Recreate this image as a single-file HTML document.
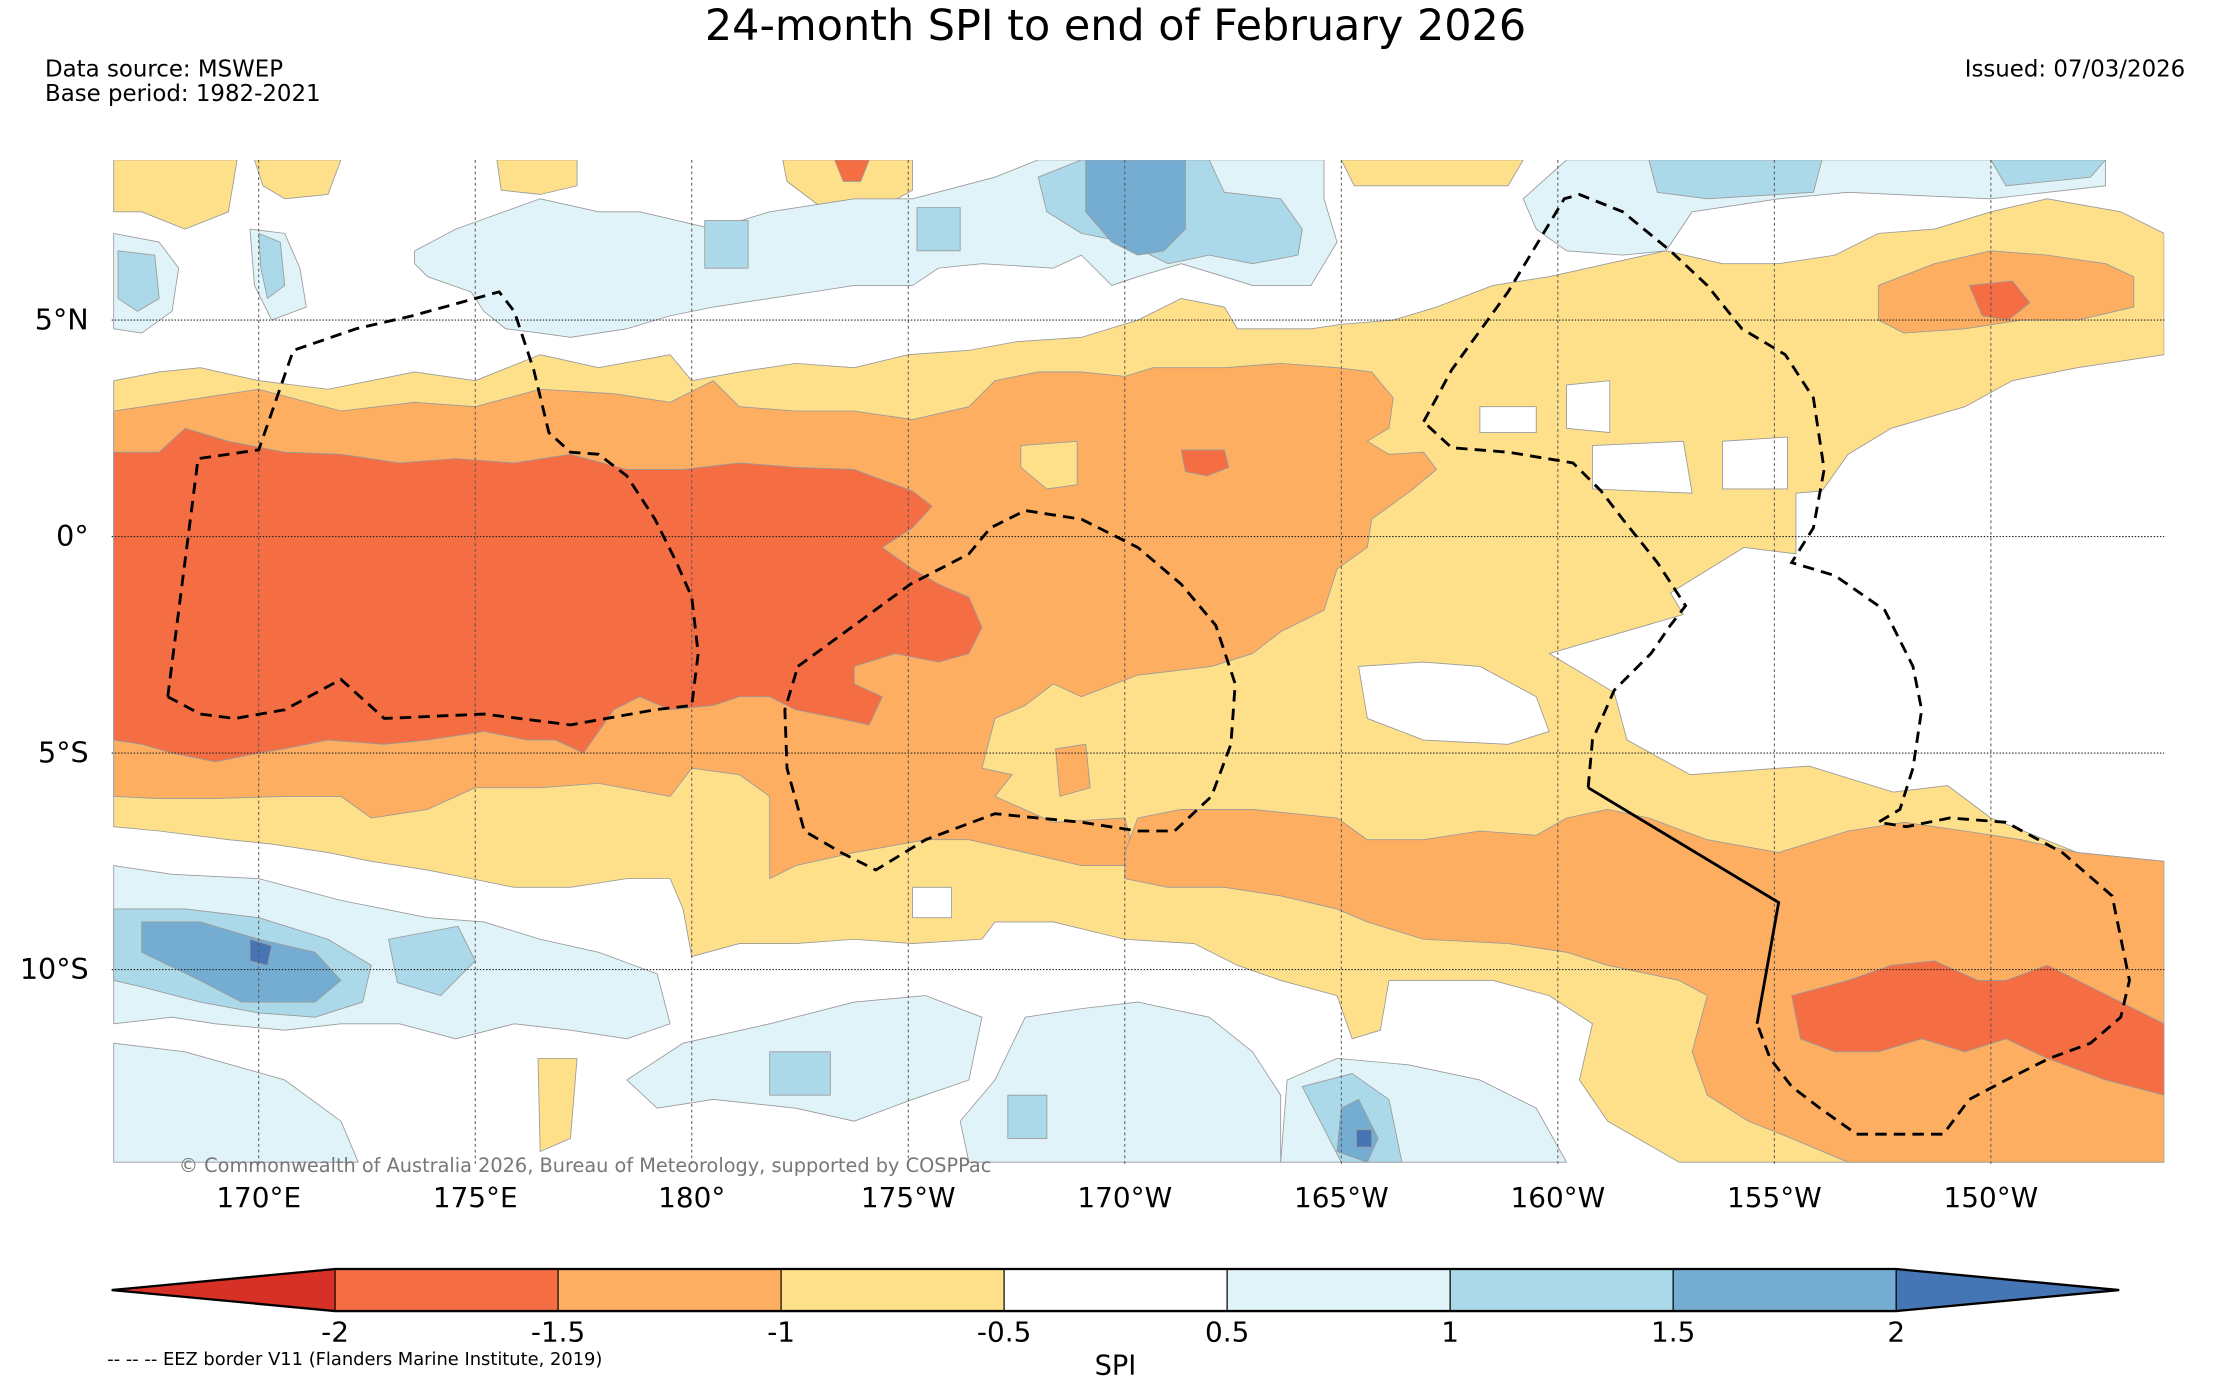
<!DOCTYPE html>
<html><head><meta charset="utf-8"><title>24-month SPI</title>
<style>
html,body{margin:0;padding:0;background:#fff;}
svg{display:block;font-family:"DejaVu Sans","Liberation Sans",sans-serif;}
</style></head>
<body>
<svg id="chart" xmlns="http://www.w3.org/2000/svg" width="2231" height="1380" viewBox="0 0 1560 965" preserveAspectRatio="none">
<rect x="0" y="0" width="1560" height="965" fill="#fff"/>
<text x="780" y="28" text-anchor="middle" font-size="30" fill="#000">24-month SPI to end of February 2026</text>
<text x="31.5" y="53.5" font-size="16">Data source: MSWEP</text>
<text x="31.5" y="70.5" font-size="16">Base period: 1982-2021</text>
<text x="1528" y="53.5" font-size="16" text-anchor="end">Issued: 07/03/2026</text>
<defs><clipPath id="mapclip"><rect x="78.1" y="111.9" width="1435.2" height="702.8"/></clipPath></defs>
<g id="map" clip-path="url(#mapclip)"></g>
<g id="grid"></g>
<g id="eez" clip-path="url(#mapclip)"></g>
<g id="axes"></g>
<text x="125" y="819.5" font-size="13.5" fill="#777">© Commonwealth of Australia 2026, Bureau of Meteorology, supported by COSPPac</text>
<g id="cbar"></g>
<text x="780" y="961" font-size="19" text-anchor="middle">SPI</text>
<text x="75" y="954.5" font-size="12.5">-- -- -- EEZ border V11 (Flanders Marine Institute, 2019)</text>
</svg>
<script>
// ---- axis data ----
const lonTicks = [170, 175, 180, 185, 190, 195, 200, 205, 210];
const lonTickLabels = ["170°E","175°E","180°","175°W","170°W","165°W","160°W","155°W","150°W"];
const latTicks = [5, 0, -5, -10];
const latTickLabels = ["5°N","0°","5°S","10°S"];
const cbarLevels = [-2, -1.5, -1, -0.5, 0.5, 1, 1.5, 2];
const cbarLabels = ["-2","-1.5","-1","-0.5","0.5","1","1.5","2"];
const cbarColors = ["#d73027","#f46d43","#fdae61","#fee08b","#ffffff","#e0f3f8","#abd9e9","#74add1","#4575b4"];

// ---- contour data (lon 0-360 east, lat) ----
const yellowBand = [[166.65,3.6],[167.7,3.8],[168.65,3.9],[170,3.6],[171.6,3.4],[173.6,3.8],[175,3.6],[176.5,4.2],[177.85,3.9],[179.5,4.2],[180,3.6],[181.1,3.8],[182.4,4.0],[183.75,3.9],[185,4.2],[186.4,4.3],[187.5,4.5],[189,4.6],[190.3,5.0],[191.3,5.5],[192.3,5.3],[192.6,4.8],[194.3,4.8],[195,4.9],[196.2,5.0],[197.2,5.3],[198.5,5.8],[199.8,6.0],[201.15,6.3],[202.5,6.6],[203.8,6.3],[205.1,6.3],[206.4,6.5],[207.4,7.0],[208.7,7.1],[210,7.5],[211.3,7.8],[213,7.5],[214,7.0],[214,4.2],[212,3.9],[210.5,3.6],[209.4,3.0],[207.7,2.5],[206.7,1.9],[206.1,1.05],[205.5,1.0],[205.5,-0.4],[204.3,-0.25],[202.6,-1.3],[202.9,-1.8],[199.8,-2.7],[201.3,-3.6],[201.6,-4.7],[203.05,-5.5],[205.8,-5.3],[207.75,-5.9],[209,-5.75],[210,-6.5],[212,-7.3],[214,-7.5],[214,-14.45],[202.8,-14.45],[201.15,-13.5],[200.5,-12.55],[200.8,-11.25],[199.8,-10.6],[198.5,-10.25],[196.9,-10.25],[196.1,-10.25],[195.9,-11.4],[195.25,-11.6],[194.9,-10.6],[193.6,-10.25],[192.6,-9.9],[191.6,-9.4],[190,-9.3],[188.35,-8.9],[187,-8.9],[186.7,-9.3],[185.1,-9.4],[183.75,-9.3],[182.4,-9.4],[181.1,-9.4],[180,-9.7],[179.8,-8.6],[179.5,-7.9],[178.5,-7.9],[177.2,-8.1],[175.9,-8.1],[174.9,-7.9],[173.9,-7.7],[172.6,-7.5],[171.6,-7.3],[170.3,-7.1],[169.3,-7.0],[167.7,-6.8],[166.65,-6.7]];
const yellowTopA = [[166.65,8.7],[169.5,8.7],[169.3,7.5],[168.3,7.1],[167.3,7.5],[166.65,7.5]];
const yellowTopB = [[169.9,8.7],[171.9,8.7],[171.6,7.9],[170.6,7.8],[170.1,8.1]];
const yellowTopC = [[175.5,8.7],[177.35,8.7],[177.35,8.1],[176.5,7.9],[175.6,8.0]];
const yellowTopD = [[182.1,8.7],[185.1,8.7],[185.1,8.0],[184.2,7.5],[183.0,7.6],[182.2,8.2]];
const yellowTopE = [[195,8.7],[199.2,8.7],[198.85,8.1],[196.9,8.1],[195.3,8.1]];
const yellowSmallS = [[176.45,-12.05],[177.35,-12.05],[177.2,-13.9],[176.5,-14.2]];
const orangeWest = [[166.65,2.9],[168,3.1],[170,3.4],[171.9,2.9],[173.6,3.1],[175,3.0],[176.5,3.4],[178.2,3.3],[179.5,3.1],[180.5,3.6],[181.1,3.0],[182.4,2.9],[183.75,2.9],[185.1,2.7],[186.4,3.0],[187,3.6],[188,3.8],[189,3.8],[190,3.7],[190.65,3.9],[192.3,3.9],[193.6,4.0],[194.9,3.9],[195.7,3.8],[196.2,3.2],[196.1,2.5],[195.6,2.2],[196.1,1.9],[196.9,1.95],[197.2,1.55],[196.6,1.05],[195.7,0.4],[195.6,-0.25],[194.9,-0.75],[194.6,-1.7],[193.6,-2.2],[192.95,-2.7],[192,-3.0],[190.3,-3.2],[189,-3.7],[188.35,-3.4],[187.7,-3.9],[187,-4.2],[186.7,-5.35],[187.4,-5.5],[187,-6.0],[188.35,-6.6],[190,-6.5],[190.3,-7.6],[189,-7.6],[187.7,-7.3],[186.4,-7.0],[185.4,-7.0],[183.75,-7.3],[182.4,-7.6],[181.8,-7.9],[181.8,-7.0],[181.8,-6.0],[181.1,-5.5],[180,-5.35],[179.5,-6.0],[177.85,-5.7],[176.5,-5.8],[175,-5.8],[173.9,-6.3],[172.6,-6.5],[171.9,-6.0],[170.6,-6.0],[169,-6.05],[167.7,-6.05],[166.65,-6.0]];
const orangeSouth = [[190,-7.3],[190.3,-6.5],[191.3,-6.3],[192.95,-6.3],[194.9,-6.5],[195.6,-7.0],[196.9,-7.0],[198.2,-6.8],[199.5,-6.9],[200.2,-6.5],[201.15,-6.3],[202.1,-6.5],[203.45,-7.0],[205.1,-7.3],[206.7,-6.8],[208,-6.6],[209.4,-6.8],[210.7,-7.0],[212,-7.3],[214,-7.5],[214,-14.45],[206.7,-14.45],[205.4,-13.9],[204.4,-13.5],[203.45,-12.9],[203.1,-11.9],[203.45,-10.6],[202.8,-10.25],[201.15,-9.9],[200.2,-9.6],[198.85,-9.4],[196.9,-9.3],[195.6,-8.9],[194.9,-8.6],[193.6,-8.3],[192.3,-8.1],[191,-8.1],[190,-7.9]];
const orangeNE = [[207.4,5.8],[208.7,6.3],[210,6.6],[211.3,6.5],[212.65,6.3],[213.3,6.0],[213.3,5.3],[212,5.0],[210.7,5.0],[209.4,4.8],[208,4.7],[207.4,5.0]];
const orangePatchA = [[188.4,-4.9],[189.1,-4.8],[189.2,-5.8],[188.5,-6.0]];
const redWest = [[166.65,1.95],[167.7,1.95],[168.3,2.5],[169.3,2.2],[170.6,1.95],[171.9,1.9],[173.25,1.7],[174.55,1.8],[175.9,1.7],[177.2,1.9],[178.5,1.55],[179.8,1.55],[181.1,1.7],[182.4,1.6],[183.75,1.55],[185.1,1.05],[185.55,0.7],[185.1,0.2],[184.4,-0.25],[185.1,-0.75],[185.7,-1.1],[186.4,-1.4],[186.7,-2.1],[186.4,-2.7],[185.7,-2.9],[184.7,-2.7],[183.75,-3.0],[183.75,-3.4],[184.4,-3.7],[184.1,-4.35],[183.4,-4.2],[182.4,-4.0],[181.8,-3.7],[181.1,-3.7],[180.5,-3.9],[179.5,-4.0],[178.8,-3.7],[178.2,-4.0],[177.85,-4.5],[177.5,-5.0],[176.85,-4.7],[176.2,-4.7],[175.2,-4.5],[173.9,-4.7],[172.9,-4.8],[171.6,-4.7],[170.6,-4.9],[170,-5.0],[169,-5.2],[168,-5.0],[167.3,-4.8],[166.65,-4.7]];
const redEast = [[205.4,-10.6],[206.7,-10.25],[207.7,-9.9],[208.7,-9.8],[209.7,-10.25],[210.35,-10.25],[211.3,-9.9],[212.3,-10.4],[213.3,-10.9],[214,-11.25],[214,-12.9],[212.65,-12.55],[211.3,-12.05],[210.35,-11.6],[209.4,-11.9],[208.4,-11.6],[207.4,-11.9],[206.4,-11.9],[205.6,-11.6]];
const redBlobA = [[191.3,2.0],[192.3,2.0],[192.4,1.6],[191.9,1.4],[191.4,1.5]];
const redBlobB = [[209.5,5.8],[210.5,5.9],[210.9,5.4],[210.4,5.0],[209.8,5.1]];
const redBlobC = [[183.3,8.7],[184.1,8.7],[183.9,8.2],[183.5,8.2]];
const yellowHole = [[187.6,2.1],[188.9,2.2],[188.9,1.2],[188.2,1.1],[187.6,1.6]];
const whiteHoleA = [[195.4,-3.0],[196.9,-2.9],[198.2,-3.0],[199.5,-3.7],[199.8,-4.5],[198.85,-4.8],[196.9,-4.7],[195.6,-4.2]];
const whiteHoleB = [[198.2,3.0],[199.5,3.0],[199.5,2.4],[198.2,2.4]];
const whiteHoleC = [[200.2,3.5],[201.2,3.6],[201.2,2.4],[200.2,2.5]];
const whiteHoleD = [[200.8,2.1],[202.9,2.2],[203.1,1.0],[200.8,1.1]];
const whiteHoleE = [[203.8,2.2],[205.3,2.3],[205.3,1.1],[203.8,1.1]];
const whiteHoleF = [[185.1,-8.1],[186.0,-8.1],[186.0,-8.8],[185.1,-8.8]];
const lbNorth = [[173.6,6.6],[174.55,7.1],[176.5,7.8],[177.85,7.5],[178.8,7.5],[180.5,7.1],[181.8,7.5],[183.75,7.8],[185.1,7.8],[187,8.3],[188,8.7],[194.6,8.7],[194.6,7.8],[194.9,6.8],[194.3,5.8],[192.95,5.8],[192.3,6.0],[191.3,6.3],[190.3,6.0],[189.7,5.8],[189,6.5],[188.35,6.2],[186.7,6.3],[185.7,6.2],[185.1,5.8],[183.75,5.8],[182.8,5.65],[181.8,5.5],[180.5,5.3],[179.5,5.1],[178.5,4.8],[177.2,4.6],[176.5,4.7],[175.7,4.8],[175.2,5.2],[174.9,5.65],[173.9,6.0],[173.6,6.3]];
const lbNE = [[199.2,7.8],[200.2,8.7],[212.65,8.7],[212.65,8.1],[210,7.8],[206.7,7.95],[205.1,7.8],[203.1,7.5],[202.5,6.6],[201.5,6.5],[200.2,6.6],[199.5,7.1]];
const lbNW1 = [[166.65,7.0],[167.7,6.8],[168.15,6.2],[168,5.2],[167.3,4.7],[166.65,4.8]];
const lbNW2 = [[169.8,7.1],[170.6,7.0],[170.95,6.2],[171.1,5.3],[170.3,5.0],[169.9,5.8]];
const lbSW = [[166.65,-7.6],[168,-7.8],[170,-7.9],[171.9,-8.4],[173.9,-8.8],[175.2,-8.9],[176.5,-9.3],[177.85,-9.6],[179.2,-10.1],[179.5,-11.25],[178.5,-11.6],[177.2,-11.4],[175.9,-11.25],[174.55,-11.6],[173.25,-11.25],[171.9,-11.25],[170.6,-11.4],[169,-11.25],[168,-11.1],[166.65,-11.25]];
const lbS1 = [[166.65,-11.7],[168.3,-11.9],[170.6,-12.55],[171.9,-13.5],[172.3,-14.45],[166.65,-14.45]];
const lbS2 = [[178.5,-12.55],[179.8,-11.7],[181.8,-11.25],[183.75,-10.75],[185.4,-10.6],[186.7,-11.1],[186.4,-12.55],[185.1,-13.0],[183.75,-13.5],[182.4,-13.2],[180.5,-13.0],[179.2,-13.2]];
const lbS3 = [[187,-12.55],[187.7,-11.1],[189,-10.9],[190.3,-10.75],[191.95,-11.1],[192.95,-11.9],[193.6,-12.9],[193.6,-14.45],[186.4,-14.45],[186.2,-13.5]];
const lbS4 = [[193.75,-12.55],[194.9,-12.05],[196.55,-12.2],[198.2,-12.55],[199.5,-13.2],[200.2,-14.45],[193.6,-14.45]];
const bNorth = [[188,8.3],[189,8.7],[191.95,8.7],[192.3,7.95],[193.6,7.8],[194.1,7.1],[194,6.5],[192.95,6.3],[191.95,6.5],[191,6.3],[190,6.8],[189,7.0],[188.2,7.5]];
const bSmallA = [[180.3,7.3],[181.3,7.3],[181.3,6.2],[180.3,6.2]];
const bSmallB = [[185.2,7.6],[186.2,7.6],[186.2,6.6],[185.2,6.6]];
const bNE1 = [[202.1,8.7],[206.1,8.7],[205.9,7.95],[203.45,7.8],[202.3,7.95]];
const bNE2 = [[210,8.7],[212.65,8.7],[212.3,8.3],[210.35,8.1]];
const bNW1 = [[166.75,6.6],[167.6,6.5],[167.7,5.5],[167.2,5.2],[166.75,5.5]];
const bNW2 = [[170,7.0],[170.5,6.8],[170.6,5.8],[170.2,5.5],[170.05,6.2]];
const bSW = [[166.65,-8.6],[168.3,-8.6],[170,-8.8],[171.6,-9.3],[172.6,-9.9],[172.4,-10.75],[171.3,-11.1],[170,-11.0],[168.65,-10.75],[167.3,-10.4],[166.65,-10.25]];
const bSW2 = [[173,-9.3],[174.6,-9.0],[175,-9.8],[174.2,-10.6],[173.2,-10.3]];
const bS2 = [[181.8,-11.9],[183.2,-11.9],[183.2,-12.9],[181.8,-12.9]];
const bS4 = [[194.1,-12.7],[195.25,-12.4],[196.1,-13.0],[196.4,-14.45],[195,-14.45]];
const bS3 = [[187.3,-12.9],[188.2,-12.9],[188.2,-13.9],[187.3,-13.9]];
const dbNorth = [[189.1,8.7],[191.4,8.7],[191.4,7.1],[190.9,6.6],[190.3,6.5],[189.7,6.8],[189.1,7.5]];
const dbSW = [[167.3,-8.9],[168.65,-8.9],[170,-9.3],[171.3,-9.6],[171.9,-10.25],[171.3,-10.75],[169.6,-10.75],[168.65,-10.25],[167.3,-9.6]];
const dbS4 = [[195,-13.2],[195.4,-13.0],[195.85,-13.9],[195.6,-14.45],[194.9,-14.2]];
const xbSW = [[169.8,-9.3],[170.3,-9.45],[170.2,-9.9],[169.8,-9.8]];
const xbS4 = [[195.35,-13.7],[195.7,-13.7],[195.7,-14.1],[195.35,-14.1]];

// ---- EEZ borders ----
const eezA = [[167.9,-3.7],[168.6,1.8],[170.0,2.0],[170.8,4.3],[172.25,4.8],[173.55,5.1],[175.55,5.65],[175.9,5.2],[176.35,3.85],[176.7,2.4],[177.2,1.95],[177.85,1.9],[178.5,1.4],[179.15,0.4],[179.65,-0.6],[180,-1.4],[180.15,-2.7],[180,-3.9],[179.15,-4.0],[177.2,-4.35],[175.2,-4.1],[172.9,-4.2],[171.9,-3.3],[170.6,-4.0],[169.45,-4.2],[168.65,-4.1],[167.9,-3.7]];
const eezB = [[182.45,-3.0],[183.75,-2.05],[185.05,-1.1],[186.4,-0.4],[186.9,0.2],[187.7,0.6],[189,0.4],[190.3,-0.25],[191.3,-1.1],[192.1,-2.05],[192.55,-3.4],[192.45,-4.8],[192,-6.0],[191.15,-6.8],[190.3,-6.8],[189,-6.6],[187,-6.4],[185.4,-7.0],[184.25,-7.7],[183.45,-7.3],[182.6,-6.8],[182.2,-5.35],[182.15,-4.0],[182.45,-3.0]];
const eezC = [[196.9,2.65],[197.55,3.85],[198.85,5.65],[200.15,7.8],[200.5,7.9],[201.5,7.5],[202.6,6.6],[203.45,5.8],[204.25,4.8],[205.25,4.2],[205.9,3.2],[206.15,1.55],[205.9,0.2],[205.4,-0.6],[206.4,-0.9],[207.55,-1.7],[208.2,-3.0],[208.4,-4.0],[208.2,-5.35],[207.9,-6.3],[207.4,-6.6],[208.05,-6.7],[209.05,-6.5],[210.35,-6.6],[211.65,-7.3],[212.8,-8.3],[213.2,-10.25],[213,-11.1],[212.3,-11.7],[211.35,-12.05],[210.35,-12.55],[209.5,-13.0],[208.9,-13.8],[206.9,-13.8],[206.05,-13.2],[205.4,-12.7],[204.9,-12.05],[204.6,-11.25]];
const eezD = [[200.7,-5.8],[200.8,-4.7],[201.3,-3.55],[202.15,-2.7],[202.6,-2.05],[202.95,-1.6],[202.3,-0.6],[201.5,0.4],[201.0,1.05],[200.35,1.7],[198.85,1.95],[197.55,2.05],[196.9,2.65]];
const eezSolid = [[204.6,-11.25],[205.1,-8.45],[200.7,-5.8]];

// ---- projection ----
const NS = "http://www.w3.org/2000/svg";
const MAP_L = 78.1, MAP_R = 1513.3, MAP_T = 111.9, MAP_B = 814.7;
const xLon = lon => 180.9 + (lon - 170) * 30.28;
const yLat = lat => 375.2 - lat * 30.28;
function pts(arr){ return arr.map(p => xLon(p[0]).toFixed(1) + "," + yLat(p[1]).toFixed(1)).join(" "); }
function poly(parent, arr, fill, name){
  const el = document.createElementNS(NS, "polygon");
  el.setAttribute("points", pts(arr));
  el.setAttribute("fill", fill);
  el.setAttribute("stroke", "#9a9a9a");
  el.setAttribute("stroke-width", "0.6");
  el.setAttribute("stroke-linejoin", "round");
  
  
  parent.appendChild(el);
}
const map = document.getElementById("map");
const Y = cbarColors[3], O = cbarColors[2], R = cbarColors[1], W = "#ffffff";
const L1 = cbarColors[5], L2 = cbarColors[6], L3 = cbarColors[7], L4 = cbarColors[8];
const layers = [
  [yellowBand, Y, "dry-band-moderate"], [yellowTopA, Y, "dry-patch-nw"], [yellowTopB, Y, "dry-patch-n1"],
  [yellowTopC, Y, "dry-patch-n2"], [yellowTopD, Y, "dry-patch-n3"], [yellowTopE, Y, "dry-patch-n4"], [yellowSmallS, Y, "dry-patch-s"],
  [orangeWest, O, "dry-region-west"], [orangeSouth, O, "dry-region-south"], [orangeNE, O, "dry-region-ne"], [orangePatchA, O, "dry-patch-central"],
  [redWest, R, "very-dry-region-west"], [redEast, R, "very-dry-region-east"], [redBlobA, R, "very-dry-blob-a"], [redBlobB, R, "very-dry-blob-b"], [redBlobC, R, "very-dry-blob-c"],
  [yellowHole, Y, "dry-hole"], [whiteHoleA, W, "normal-hole-a"], [whiteHoleB, W, "normal-hole-b"], [whiteHoleC, W, "normal-hole-c"],
  [whiteHoleD, W, "normal-hole-d"], [whiteHoleE, W, "normal-hole-e"], [whiteHoleF, W, "normal-hole-f"],
  [lbNorth, L1, "wet-band-north"], [lbNE, L1, "wet-region-ne"], [lbNW1, L1, "wet-region-nw1"], [lbNW2, L1, "wet-region-nw2"],
  [lbSW, L1, "wet-region-sw"], [lbS1, L1, "wet-region-s1"], [lbS2, L1, "wet-region-s2"], [lbS3, L1, "wet-region-s3"], [lbS4, L1, "wet-region-s4"],
  [bNorth, L2, "moist-north"], [bSmallA, L2, "moist-small-a"], [bSmallB, L2, "moist-small-b"], [bNE1, L2, "moist-ne1"], [bNE2, L2, "moist-ne2"],
  [bNW1, L2, "moist-nw1"], [bNW2, L2, "moist-nw2"], [bSW, L2, "moist-sw"], [bSW2, L2, "moist-sw2"], [bS2, L2, "moist-s2"], [bS3, L2, "moist-s3"], [bS4, L2, "moist-s4"],
  [dbNorth, L3, "very-wet-north"], [dbSW, L3, "very-wet-sw"], [dbS4, L3, "very-wet-s4"],
  [xbSW, L4, "extreme-wet-sw"], [xbS4, L4, "extreme-wet-s4"]
];
layers.forEach(l => poly(map, l[0], l[1], l[2]));

// ---- graticule ----
const grid = document.getElementById("grid");
lonTicks.forEach(lon => {
  const ln = document.createElementNS(NS, "line");
  ln.setAttribute("x1", xLon(lon)); ln.setAttribute("x2", xLon(lon));
  ln.setAttribute("y1", MAP_T); ln.setAttribute("y2", MAP_B);
  ln.setAttribute("stroke", "#555"); ln.setAttribute("stroke-width", "0.7"); ln.setAttribute("stroke-dasharray", "2,2");
  
  
  grid.appendChild(ln);
});
latTicks.forEach(lat => {
  const ln = document.createElementNS(NS, "line");
  ln.setAttribute("x1", MAP_L); ln.setAttribute("x2", MAP_R);
  ln.setAttribute("y1", yLat(lat)); ln.setAttribute("y2", yLat(lat));
  ln.setAttribute("stroke", "#222"); ln.setAttribute("stroke-width", "0.8"); ln.setAttribute("stroke-dasharray", "1,1.2");
  
  
  grid.appendChild(ln);
});

// ---- EEZ ----
const eez = document.getElementById("eez");
function line(arr, dashed, name){
  const el = document.createElementNS(NS, "polyline");
  el.setAttribute("points", pts(arr));
  el.setAttribute("fill", "none");
  el.setAttribute("stroke", "#000");
  el.setAttribute("stroke-width", "2");
  if (dashed) el.setAttribute("stroke-dasharray", "8,5");
  
  
  eez.appendChild(el);
}
line(eezA, true, "eez-border-tuvalu");
line(eezB, true, "eez-border-tokelau");
line(eezC, true, "eez-border-line-islands");
line(eezD, true, "eez-border-phoenix");
line(eezSolid, false, "eez-border-solid");

// ---- axis labels ----
const axes = document.getElementById("axes");
lonTicks.forEach((lon, i) => {
  const t = document.createElementNS(NS, "text");
  t.setAttribute("x", xLon(lon)); t.setAttribute("y", 844);
  t.setAttribute("text-anchor", "middle"); t.setAttribute("font-size", "19.5");
  t.textContent = lonTickLabels[i];
  
  
  axes.appendChild(t);
});
latTicks.forEach((lat, i) => {
  const t = document.createElementNS(NS, "text");
  t.setAttribute("x", 62); t.setAttribute("y", yLat(lat) + 6.5);
  t.setAttribute("text-anchor", "end"); t.setAttribute("font-size", "20");
  t.textContent = latTickLabels[i];
  
  
  axes.appendChild(t);
});

// ---- colorbar ----
const cb = document.getElementById("cbar");
const CB_L = 234.3, CB_R = 1325.9, CB_TIP_L = 78.1, CB_TIP_R = 1481.8;
const cbX = v => CB_L + cbarLevels.indexOf(v) * ((CB_R - CB_L) / (cbarLevels.length - 1));
const cbTop = 887.4, cbBot = 916.8, cbMid = 902.1;
function cbShape(pointsStr, fill, name){
  const el = document.createElementNS(NS, "polygon");
  el.setAttribute("points", pointsStr);
  el.setAttribute("fill", fill);
  el.setAttribute("stroke", "#000");
  el.setAttribute("stroke-width", "0.8");
  
  
  cb.appendChild(el);
}
cbShape(CB_TIP_L + "," + cbMid + " " + cbX(-2) + "," + cbTop + " " + cbX(-2) + "," + cbBot, cbarColors[0], "colorbar-extend-low");
for (let i = 0; i < cbarLevels.length - 1; i++) {
  const a = cbX(cbarLevels[i]), b = cbX(cbarLevels[i + 1]);
  cbShape(a + "," + cbTop + " " + b + "," + cbTop + " " + b + "," + cbBot + " " + a + "," + cbBot, cbarColors[i + 1], "colorbar-segment");
}
cbShape(cbX(2) + "," + cbTop + " " + CB_TIP_R + "," + cbMid + " " + cbX(2) + "," + cbBot, cbarColors[8], "colorbar-extend-high");
const outline = document.createElementNS(NS, "polygon");
outline.setAttribute("points", CB_TIP_L + "," + cbMid + " " + cbX(-2) + "," + cbTop + " " + cbX(2) + "," + cbTop + " " + CB_TIP_R + "," + cbMid + " " + cbX(2) + "," + cbBot + " " + cbX(-2) + "," + cbBot);
outline.setAttribute("fill", "none");
outline.setAttribute("stroke", "#000");
outline.setAttribute("stroke-width", "1.6");


cb.appendChild(outline);
cbarLevels.forEach((v, i) => {
  const t = document.createElementNS(NS, "text");
  t.setAttribute("x", cbX(v)); t.setAttribute("y", 938);
  t.setAttribute("text-anchor", "middle"); t.setAttribute("font-size", "19.5");
  t.textContent = cbarLabels[i];
  
  
  cb.appendChild(t);
});
</script>
</body></html>
